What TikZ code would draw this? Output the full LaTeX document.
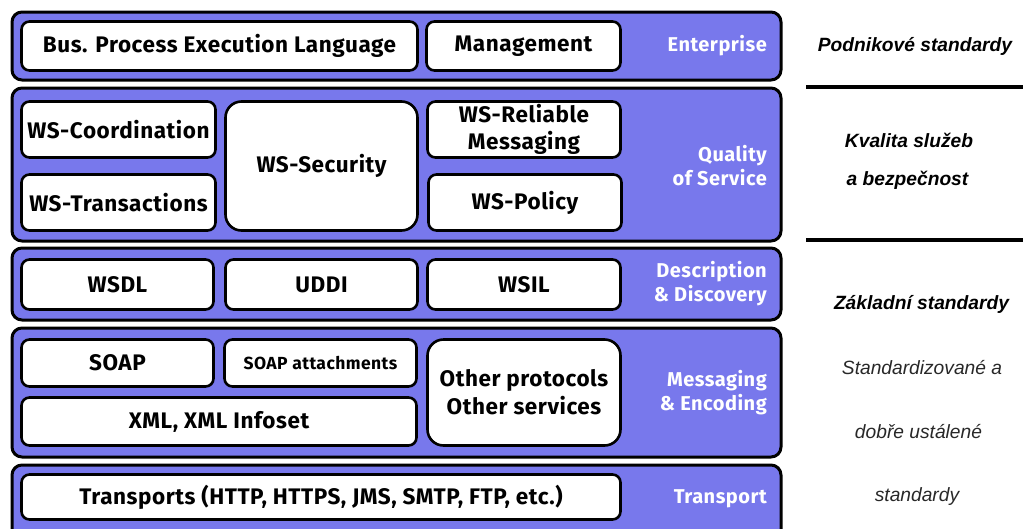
\documentclass[tikz,border=0pt]{standalone}
\usepackage{fontspec}
\newfontfamily\boxfont{Fira Sans}[LetterSpace=2.5]
\newfontfamily\arialfont{Liberation Sans}
\definecolor{bandblue}{RGB}{120,120,236}
\definecolor{lightgray}{RGB}{40,40,40}
\begin{document}
\begin{tikzpicture}[x=1pt,y=-1pt,
  band/.style={draw=black, line width=3pt, rounded corners=10pt, fill=bandblue},
  box/.style={draw=black, line width=2.6pt, rounded corners=8pt, fill=white, font=\boxfont\bfseries\fontsize{22.5}{25}\selectfont, inner sep=0pt, align=center},
  bigbox/.style={box, rounded corners=16pt},
  lbl/.style={anchor=east, text=white, font=\boxfont\bfseries\fontsize{20}{24}\selectfont, align=right, inner sep=0pt},
  side/.style={font=\arialfont\bfseries\itshape\fontsize{19.2}{22}\selectfont, inner sep=0pt},
  sidelight/.style={font=\arialfont\itshape\fontsize{19.2}{22}\selectfont, text=lightgray, inner sep=0pt},
  sep/.style={line width=3.5pt}]
\useasboundingbox (0,0) rectangle (1023,528);
% bands
\draw[band] (12,12) rectangle (781,80);
\draw[band] (12,88) rectangle (781,241);
\draw[band] (12,248) rectangle (781,320);
\draw[band] (12,328) rectangle (781,457);
\draw[band] (12,465) rectangle (781,540);
% Enterprise
\node[box, minimum width=396pt, minimum height=49pt] (bpel) at (219.5,46) {Bus. Process Execution Language};
\node[box, minimum width=194pt, minimum height=49pt] (mgmt) at (523.5,46) {Management};
\node[lbl] (ent) at (767,46) {Enterprise};
% QoS
\node[box, minimum width=194pt, minimum height=56pt] (coord) at (118.5,129.5) {WS-Coordination};
\node[box, minimum width=194pt, minimum height=56pt] (trans) at (118.5,202.5) {WS-Transactions};
\node[bigbox, minimum width=192pt, minimum height=129pt] (sec) at (321.5,166) {WS-Security};
\node[box, minimum width=193pt, minimum height=56pt] (rel) at (524,129.5) {WS-Reliable\\[2pt]Messaging};
\node[box, minimum width=193pt, minimum height=56pt] (pol) at (525,202.5) {WS-Policy};
\node[lbl] (qos) at (767,166) {Quality\\[0pt]of Service};
% Description
\node[box, minimum width=192pt, minimum height=50pt] (wsdl) at (117.5,284.5) {WSDL};
\node[box, minimum width=192pt, minimum height=50pt] (uddi) at (321.5,284.5) {UDDI};
\node[box, minimum width=193pt, minimum height=50pt] (wsil) at (524,284.5) {WSIL};
\node[lbl] (dd) at (767,284) {Description\\[0pt]\& Discovery};
% Messaging
\node[box, minimum width=192pt, minimum height=47pt] (soap) at (117.5,363) {SOAP};
\node[box, minimum width=192pt, minimum height=47pt, font=\boxfont\bfseries\fontsize{17.5}{21}\selectfont] (att) at (320.5,363) {SOAP attachments};
\node[box, minimum width=395pt, minimum height=48pt] (xml) at (219,421.5) {XML, XML Infoset};
\node[bigbox, minimum width=193pt, minimum height=106pt] (other) at (524,392.5) {Other protocols\\[3pt]Other services};
\node[lbl] (me) at (767,393) {Messaging\\[0pt]\& Encoding};
% Transport
\node[box, minimum width=599pt, minimum height=45pt] (transp) at (321,497) {Transports (HTTP, HTTPS, JMS, SMTP, FTP, etc.)};
\node[lbl] (tr) at (767,499) {Transport};
% right side
\node[side] (pod) at (915,46) {Podnikové standardy};
\coordinate (s1a) at (806,87);
\coordinate (s1b) at (1023,87);
\draw[sep] (s1a) -- (s1b);
\node[side] (kv) at (909,140) {Kvalita služeb};
\node[side] (bez) at (907.5,180) {a bezpečnost};
\coordinate (s2a) at (806,240);
\coordinate (s2b) at (1023,240);
\draw[sep] (s2a) -- (s2b);
\node[side] (zak) at (921.5,304) {Základní standardy};
\node[sidelight] (std) at (922,368) {Standardizované a};
\node[sidelight] (dob) at (918.5,432) {dobře ustálené};
\node[sidelight] (st2) at (917,497) {standardy};
\end{tikzpicture}
\end{document}
